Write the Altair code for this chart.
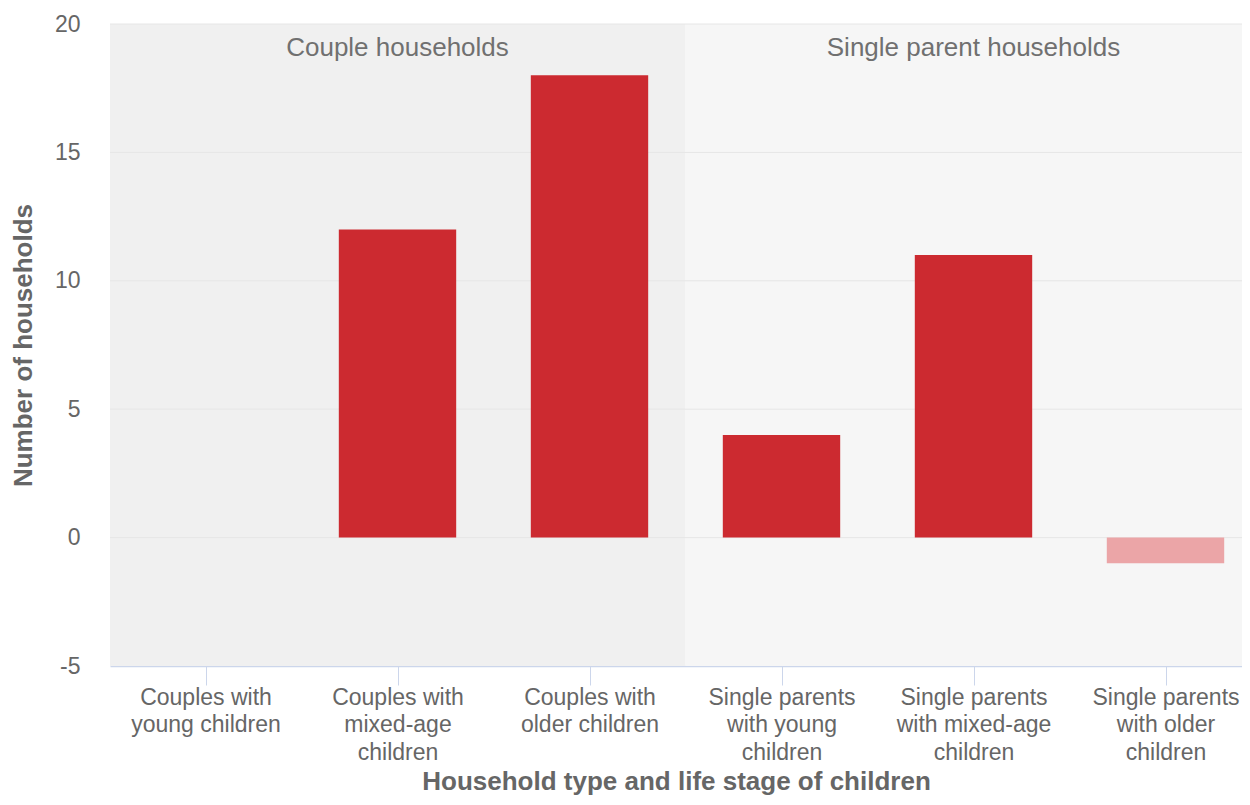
import json
import altair as alt
import pandas as pd

categories = [
    "Couples with\nyoung children",
    "Couples with\nmixed-age\nchildren",
    "Couples with\nolder children",
    "Single parents\nwith young\nchildren",
    "Single parents\nwith mixed-age\nchildren",
    "Single parents\nwith older\nchildren",
]
values = [0, 12, 18, 4, 11, -1]

panel_labels = ["Couple households", "Single parent households"]
panel_label_pos = [1, 4]          # index of the category the label sits over
panel_start = [0, 3]              # category slots covered by each panel
panel_end = [3, 6]
panel_fill = ["#f0f0f0", "#f6f6f6"]

grid_values = [0, 5, 10, 15, 20]
y_ticks = [-5, 0, 5, 10, 15, 20]

FONT = "Liberation Sans"
W, H = 1132, 642
HALF = 0.3057                     # half bar width, in category slots
X_DOMAIN = [0.0026, 0.0026 + W / 192]

centers = [i + 0.5 for i in range(len(categories))]
bars_df = pd.DataFrame({
    "category": categories,
    "value": values,
    "base": [0] * len(values),
    "c": centers,
    "sign": ["neg" if v < 0 else "pos" for v in values],
})
bars_df["x0"] = bars_df["c"] - HALF
bars_df["x1"] = bars_df["c"] + HALF

panels_df = pd.DataFrame({
    "label": panel_labels,
    "pos": [p + 0.5 for p in panel_label_pos],
    "start": [max(s, X_DOMAIN[0]) for s in panel_start],
    "end": [min(e, X_DOMAIN[1]) for e in panel_end],
    "fill": panel_fill,
    "top": [20, 20],
    "bottom": [-5, -5],
})
grid_df = pd.DataFrame({"v": grid_values})

yscale = alt.Scale(domain=[-5, 20], nice=False, zero=False)
xscale = alt.Scale(domain=X_DOMAIN, nice=False, zero=False)

label_expr = "split(" + json.dumps(categories) + "[floor(datum.value)], '\\n')"

x_axis = alt.Axis(
    title="Household type and life stage of children",
    values=centers,
    labelAngle=0,
    labelExpr=label_expr,
    labelFontSize=23,
    labelLineHeight=27.5,
    labelColor="#666666",
    labelFont=FONT,
    labelBaseline="top",
    labelPadding=1,
    labelFlush=False,
    labelOverlap=False,
    tickSize=19,
    tickColor="#ccd6eb",
    domainColor="#ccd6eb",
    domainWidth=1.5,
    grid=False,
    titleFontSize=26,
    titleFont=FONT,
    titleColor="#666666",
    titleFontWeight="bold",
    titlePadding=4,
)

y_axis = alt.Axis(
    title="Number of households",
    values=y_ticks,
    labelExpr="'' + datum.value",
    grid=False,
    domain=False,
    ticks=False,
    labelFontSize=23,
    labelColor="#666666",
    labelFont=FONT,
    labelPadding=30,
    titleFontSize=26,
    titleFont=FONT,
    titleColor="#666666",
    titleFontWeight="bold",
    titlePadding=18,
)

bg = alt.Chart(panels_df).mark_rect().encode(
    x=alt.X("start:Q", scale=xscale, axis=x_axis),
    x2="end:Q",
    y=alt.Y("top:Q", scale=yscale, axis=y_axis),
    y2="bottom:Q",
    fill=alt.Fill("fill:N", scale=None),
)

grid = alt.Chart(grid_df).mark_rule(color="#e6e6e6", strokeWidth=1).encode(
    y=alt.Y("v:Q", scale=yscale, axis=y_axis),
)

bars = alt.Chart(bars_df).mark_rect().encode(
    x=alt.X("x0:Q", scale=xscale, axis=x_axis),
    x2="x1:Q",
    y=alt.Y("value:Q", scale=yscale, axis=y_axis),
    y2="base:Q",
    color=alt.Color(
        "sign:N",
        scale=alt.Scale(domain=["pos", "neg"], range=["#cc2a30", "#eba5a7"]),
        legend=None,
    ),
)

texts = alt.Chart(panels_df).mark_text(
    fontSize=26, font=FONT, color="#707070", baseline="middle", dy=24
).encode(
    x=alt.X("pos:Q", scale=xscale, axis=x_axis),
    y=alt.Y("top:Q", scale=yscale, axis=y_axis),
    text="label:N",
)

chart = alt.layer(bg, grid, bars, texts).properties(
    width=W,
    height=H,
    autosize=alt.AutoSizeParams(type="none"),
    padding={"left": 102, "top": 16, "right": 0, "bottom": 131},
).configure_view(stroke=None)

chart.save("out.html", embed_options={"renderer": "svg", "actions": False})
